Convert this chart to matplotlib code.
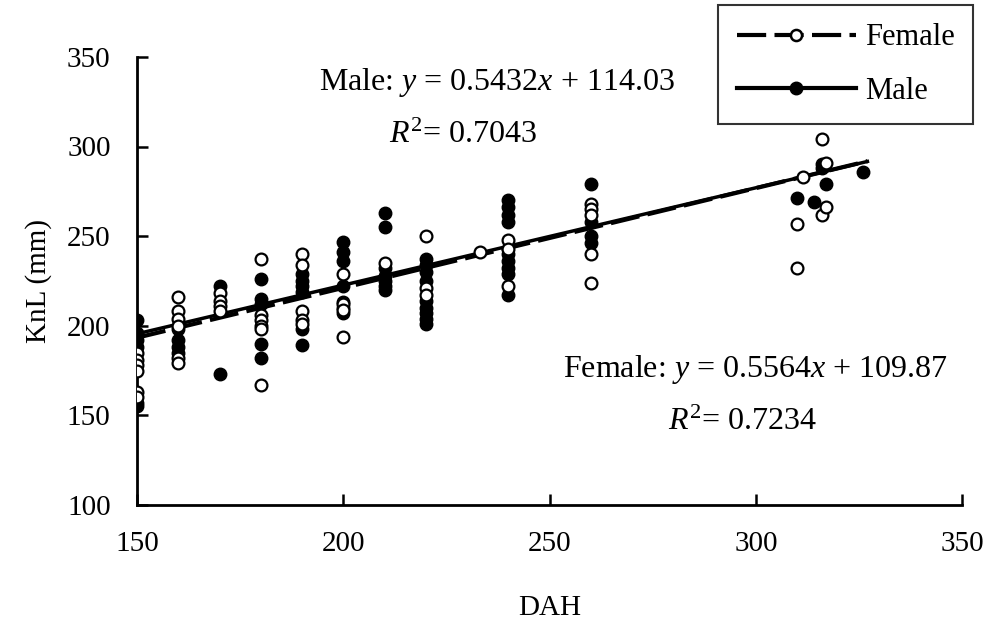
import matplotlib
matplotlib.use('Agg')
import matplotlib.pyplot as plt
import numpy as np
from matplotlib.lines import Line2D

plt.rcParams['font.family'] = 'Liberation Serif'
plt.rcParams['mathtext.fontset'] = 'custom'
plt.rcParams['mathtext.rm'] = 'Liberation Serif'
plt.rcParams['mathtext.it'] = 'Liberation Serif:italic'

# female observations (DAH, KnL)
female_x = [150, 150, 150, 150, 150, 150,
            160, 160, 160, 160, 160, 160,
            170, 170, 170, 170,
            180, 180, 180, 180, 180, 180,
            190, 190, 190, 190, 190,
            200, 200, 200, 200,
            210,
            220, 220, 220,
            233,
            240, 240, 240,
            260, 260, 260, 260, 260,
            310, 310, 311.5, 316, 316, 317, 317]
female_y = [185, 181, 178, 175, 163, 160,
            216, 208, 204, 200, 182, 179,
            218, 214, 211, 208,
            237, 206, 203, 200, 198, 167,
            240, 234, 208, 203, 201,
            229, 212, 209, 194,
            235,
            250, 221, 217,
            241,
            248, 243, 222,
            268, 265, 262, 240, 224,
            257, 232, 283, 304, 262, 291, 266]

# male observations
male_x = [150, 150, 150, 150, 150, 150,
          160, 160, 160, 160,
          170, 170,
          180, 180, 180, 180, 180,
          190, 190, 190, 190, 190, 190,
          200, 200, 200, 200, 200, 200, 200,
          210, 210, 210, 210, 210, 210, 210,
          220, 220, 220, 220, 220, 220, 220, 220, 220,
          240, 240, 240, 240, 240, 240, 240, 240, 240,
          260, 260, 260, 260,
          310, 314, 316, 316, 317, 326]
male_y = [203, 196, 192, 188, 157, 155,
          198, 192, 188, 185,
          222, 173,
          226, 215, 212, 190, 182,
          229, 225, 222, 219, 198, 189,
          247, 241, 236, 222, 213, 210, 207,
          263, 255, 232, 228, 225, 222, 220,
          237, 234, 230, 225, 214, 210, 207, 204, 201,
          270, 266, 262, 258, 240, 236, 232, 229, 217,
          279, 258, 250, 246,
          271, 269, 290, 288, 279, 286]

fit_range = [150, 327]
female_fit = (0.5564, 109.87)
male_fit = (0.5432, 114.03)

fig = plt.figure(figsize=(9.86, 6.25), dpi=100)
ax = fig.add_axes([0.139, 0.192, 0.837, 0.717])

xs = np.array(fit_range)
ax.plot(xs, female_fit[0] * xs + female_fit[1], color='black', lw=3,
        dashes=(7, 2), zorder=2)
ax.plot(xs, male_fit[0] * xs + male_fit[1], color='black', lw=2.5, zorder=2)

ax.plot(male_x, male_y, 'o', color='black', ms=9, zorder=3)
ax.plot(female_x, female_y, 'o', mfc='white', mec='black', mew=1.6, ms=8.5, zorder=4)

ax.set_xlim(150, 350)
ax.set_ylim(100, 350)
ax.set_xticks([150, 200, 250, 300, 350])
ax.set_yticks([100, 150, 200, 250, 300, 350])
ax.tick_params(direction='in', labelsize=21, width=1.8, length=8)
ax.tick_params(axis='x', pad=19)
ax.tick_params(axis='y', pad=19)
for s in ['top', 'right']:
    ax.spines[s].set_visible(False)
for s in ['left', 'bottom']:
    ax.spines[s].set_linewidth(2)

ax.set_xlabel('DAH', fontsize=21, labelpad=27)
ax.set_ylabel('KnL (mm)', fontsize=21, labelpad=11)

ax.text(0.436, 0.926, 'Male: $y$ = 0.5432$x$ + 114.03', transform=ax.transAxes,
        fontsize=23, ha='center', va='baseline')
ax.text(0.395, 0.808, '$R^2$= 0.7043', transform=ax.transAxes,
        fontsize=23, ha='center', va='baseline')
ax.text(0.749, 0.286, 'Female: $y$ = 0.5564$x$ + 109.87', transform=ax.transAxes,
        fontsize=23, ha='center', va='baseline')
ax.text(0.733, 0.167, '$R^2$= 0.7234', transform=ax.transAxes,
        fontsize=23, ha='center', va='baseline')

handles = [Line2D([], [], color='black', lw=3, dashes=(7, 2), marker='o',
                  mfc='white', mec='black', mew=1.8, ms=8),
           Line2D([], [], color='black', lw=3, marker='o', ms=9)]
leg = fig.legend(handles, ['Female', 'Male'], loc='upper right',
                 bbox_to_anchor=(0.987, 0.992), fontsize=22, handlelength=3.9,
                 handletextpad=0.3, frameon=True, fancybox=False,
                 edgecolor='black', borderpad=0.6, labelspacing=0.8,
                 borderaxespad=0)
leg.get_frame().set_linewidth(1.5)

fig.savefig('out.png', dpi=100)
